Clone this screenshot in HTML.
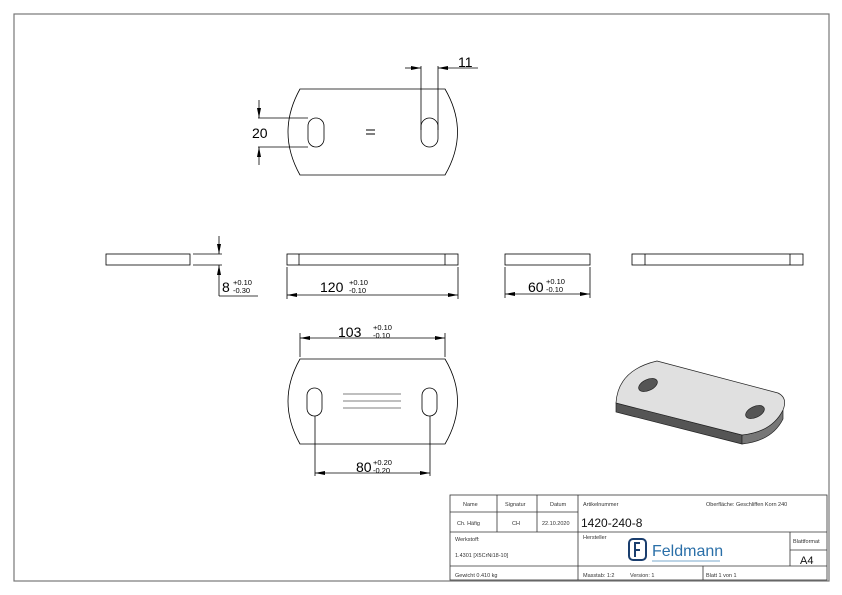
<!DOCTYPE html>
<html><head><meta charset="utf-8"><style>
html,body{margin:0;padding:0;background:#fff;}
svg{display:block;font-family:"Liberation Sans",sans-serif;}
</style></head><body>
<svg width="842" height="595" viewBox="0 0 842 595" xmlns="http://www.w3.org/2000/svg">
<defs>
<marker id="a" viewBox="0 0 10 4" refX="10" refY="2" markerWidth="10" markerHeight="4" orient="auto-start-reverse" markerUnits="userSpaceOnUse"><path d="M0,0L10,2L0,4z" fill="#000"/></marker>
</defs>
<rect x="0" y="0" width="842" height="595" fill="#fff"/>
<rect x="14" y="14" width="815" height="567" fill="none" stroke="#777" stroke-width="1.2"/>
<g fill="none" stroke="#000" stroke-width="0.8">
<path d="M300,89 L445,89 Q470,132 445,175 L300,175 Q276,132 300,89 Z"/>
<rect x="308" y="118" width="16" height="29" rx="8"/>
<rect x="421" y="118" width="17" height="29" rx="8.5"/>
<line x1="421" y1="130" x2="421" y2="66"/><line x1="438" y1="130" x2="438" y2="66"/>
<line x1="405" y1="68" x2="421" y2="68" marker-end="url(#a)"/>
<line x1="478" y1="68" x2="438" y2="68" marker-end="url(#a)"/>
<line x1="258" y1="118" x2="308" y2="118"/><line x1="258" y1="147" x2="308" y2="147"/>
<line x1="259" y1="100" x2="259" y2="118" marker-end="url(#a)"/>
<line x1="259" y1="165" x2="259" y2="147" marker-end="url(#a)"/>
<rect x="106" y="254" width="84" height="11"/>
<line x1="193" y1="254" x2="222" y2="254"/><line x1="193" y1="265" x2="222" y2="265"/>
<line x1="219" y1="236" x2="219" y2="254" marker-end="url(#a)"/>
<line x1="219" y1="296" x2="219" y2="265" marker-end="url(#a)"/>
<line x1="219" y1="296" x2="258" y2="296"/>
<rect x="287" y="254" width="171" height="11"/>
<line x1="299" y1="254" x2="299" y2="265"/><line x1="445" y1="254" x2="445" y2="265"/>
<line x1="287" y1="267" x2="287" y2="299"/><line x1="458" y1="267" x2="458" y2="299"/>
<line x1="287" y1="295" x2="458" y2="295" marker-start="url(#a)" marker-end="url(#a)"/>
<rect x="505" y="254" width="85" height="11"/>
<line x1="505" y1="267" x2="505" y2="298"/><line x1="590" y1="267" x2="590" y2="298"/>
<line x1="505" y1="294" x2="590" y2="294" marker-start="url(#a)" marker-end="url(#a)"/>
<rect x="632" y="254" width="171" height="11"/>
<line x1="645" y1="254" x2="645" y2="265"/><line x1="790" y1="254" x2="790" y2="265"/>
<path d="M300,359 L445,359 Q470,401 445,444 L300,444 Q276,401 300,359 Z"/>
<rect x="307" y="388" width="15" height="28" rx="7.5"/>
<rect x="422" y="388" width="15" height="28" rx="7.5"/>
<line x1="343" y1="394" x2="401" y2="394" stroke="#555"/><line x1="343" y1="401" x2="401" y2="401" stroke="#555"/><line x1="343" y1="408" x2="401" y2="408" stroke="#555"/>
<line x1="300" y1="357" x2="300" y2="333"/><line x1="445" y1="357" x2="445" y2="333"/>
<line x1="300" y1="338" x2="445" y2="338" marker-start="url(#a)" marker-end="url(#a)"/>
<line x1="315" y1="416" x2="315" y2="476"/><line x1="430" y1="416" x2="430" y2="476"/>
<line x1="315" y1="473" x2="430" y2="473" marker-start="url(#a)" marker-end="url(#a)"/>
</g>
<g stroke="#000" stroke-width="1"><line x1="366" y1="130" x2="375" y2="130"/><line x1="366" y1="134" x2="375" y2="134"/></g>
<g font-size="14" fill="#000">
<text x="458" y="67">11</text>
<text x="252" y="138">20</text>
<text x="222" y="292">8</text>
<text x="320" y="292">120</text>
<text x="528" y="292">60</text>
<text x="338" y="337">103</text>
<text x="356" y="472">80</text>
</g>
<g font-size="7.5" fill="#000">
<text x="233" y="285">+0.10</text><text x="233" y="293">-0.30</text>
<text x="349" y="285">+0.10</text><text x="349" y="293">-0.10</text>
<text x="546" y="284">+0.10</text><text x="546" y="292">-0.10</text>
<text x="373" y="330">+0.10</text><text x="373" y="338">-0.10</text>
<text x="373" y="465">+0.20</text><text x="373" y="473">-0.20</text>
</g>
<g stroke="#222" stroke-width="0.7">
<path d="M616,403 L616,412 L742,444 L742,435 Z" fill="#555"/>
<path d="M742,435 Q772,432 783,410 L783,419 Q772,441 742,444 Z" fill="#777"/>
<path d="M657,361 L778,393 Q788,398 783,410 Q772,432 742,435 L616,403 Q618,370 657,361 Z" fill="#e0e0e0"/>
<ellipse cx="648" cy="385" rx="10" ry="5.5" transform="rotate(-25 648 385)" fill="#555"/>
<ellipse cx="755" cy="412" rx="10" ry="5.5" transform="rotate(-25 755 412)" fill="#555"/>
</g>
<g fill="none" stroke="#333" stroke-width="0.8">
<rect x="450" y="495" width="377" height="85"/>
<line x1="450" y1="512" x2="578" y2="512"/>
<line x1="450" y1="532" x2="827" y2="532"/>
<line x1="450" y1="566" x2="827" y2="566"/>
<line x1="497" y1="495" x2="497" y2="532"/><line x1="537" y1="495" x2="537" y2="532"/>
<line x1="578" y1="495" x2="578" y2="580"/>
<line x1="703" y1="566" x2="703" y2="580"/>
<line x1="790" y1="532" x2="790" y2="566"/><line x1="790" y1="550" x2="827" y2="550"/>
</g>
<g font-size="5.5" fill="#333">
<text x="463" y="506">Name</text><text x="505" y="506">Signatur</text><text x="550" y="506">Datum</text>
<text x="583" y="506">Artikelnummer</text><text x="706" y="506">Oberfläche:  Geschliffen Korn 240</text>
<text x="457" y="525">Ch. Häfig</text><text x="512" y="525">CH</text><text x="542" y="525">22.10.2020</text>
<text x="455" y="541">Werkstoff:</text><text x="455" y="557">1.4301 [X5CrNi18-10]</text>
<text x="583" y="539">Hersteller</text>
<text x="793" y="543">Blattformat</text>
<text x="455" y="577">Gewicht 0.410 kg</text>
<text x="583" y="577">Masstab: 1:2</text><text x="630" y="577">Version: 1</text>
<text x="706" y="577">Blatt 1 von 1</text>
</g>
<text x="581" y="527" font-size="12" fill="#111">1420-240-8</text>
<text x="800" y="564" font-size="11" fill="#111">A4</text>
<g stroke="#1a3e6e" stroke-width="2" fill="none">
<rect x="629" y="539" width="17" height="21" rx="4"/>
<path d="M640,543 L635,543 L635,557 M635,550 L640,550"/>
</g>
<text x="652" y="556" font-size="16" fill="#2a6fa8">Feldmann</text>
<line x1="652" y1="561" x2="720" y2="561" stroke="#7aa8cc" stroke-width="1"/>
</svg>
</body></html>
